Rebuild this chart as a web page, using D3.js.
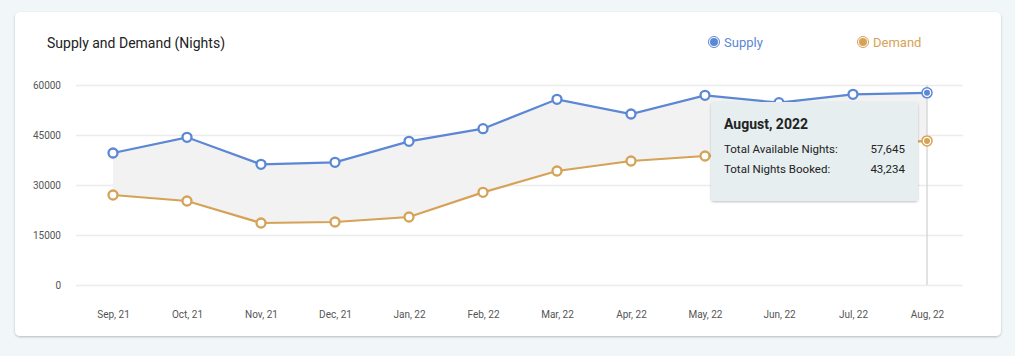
<!DOCTYPE html>
<html><head><meta charset="utf-8">
<script src="https://cdn.jsdelivr.net/npm/d3@7/dist/d3.min.js"></script>
<style>
body{margin:0;background:#f1f6f9;font-family:Roboto,"Noto Sans",sans-serif;}
svg{display:block;}
</style></head><body>
<svg id="c" width="1015" height="356"></svg>
<script>
const months = ["Sep, 21","Oct, 21","Nov, 21","Dec, 21","Jan, 22","Feb, 22","Mar, 22","Apr, 22","May, 22","Jun, 22","Jul, 22","Aug, 22"];
const supply = [39600,44300,36200,36800,43100,46900,55700,51300,56900,54700,57200,57645];
const demand = [27000,25200,18600,18900,20400,27800,34200,37200,38700,40200,41800,43234];
const yTicks = [0,15000,30000,45000,60000];
const tipTitle = "August, 2022";
const tipRows = [["Total Available Nights:","57,645"],["Total Nights Booked:","43,234"]];

const svg = d3.select("#c");
const defs = svg.append("defs");
const f = defs.append("filter").attr("id","sh").attr("x","-10%").attr("y","-10%").attr("width","120%").attr("height","130%");
f.append("feDropShadow").attr("dx",0).attr("dy",1).attr("stdDeviation",1.2).attr("flood-color","#000").attr("flood-opacity",0.25);

svg.append("rect").attr("x",15).attr("y",12).attr("width",986).attr("height",324).attr("rx",5).attr("fill","#fff").attr("filter","url(#sh)");

svg.append("text").attr("x",47).attr("y",48).attr("font-size",14).attr("fill","#222").text("Supply and Demand (Nights)");

const x = d3.scalePoint().domain(months).range([76,964]).padding(0.5);
const y = d3.scaleLinear().domain([0,60000]).range([285,85]);

// grid
const ga = svg.append("g").attr("transform","translate(76,0)")
  .call(d3.axisLeft(y).tickValues(yTicks).tickSize(-887).tickPadding(15).tickFormat(d3.format("d")));
ga.select(".domain").remove();
ga.selectAll(".tick line").attr("stroke","#ececec").attr("stroke-width",1.5);
ga.selectAll(".tick text").attr("fill","#555").attr("font-size",10).attr("font-family","Roboto");

const xa = svg.append("g").attr("transform","translate(0,285)")
  .call(d3.axisBottom(x).tickSize(0).tickPadding(26));
xa.select(".domain").remove();
xa.selectAll(".tick text").attr("fill","#555").attr("font-size",10).attr("font-family","Roboto");

const data = months.map((m,i)=>({m, s:supply[i], d:demand[i]}));

// area between
svg.append("path").datum(data)
  .attr("d", d3.area().x(d=>x(d.m)).y0(d=>y(d.d)).y1(d=>y(d.s)))
  .attr("fill","#f2f2f2");

// hover vertical line
const last = data[data.length-1];
svg.append("line").attr("x1",x(last.m)).attr("x2",x(last.m)).attr("y1",y(60000)).attr("y2",y(0))
  .attr("stroke","#d8d8d8").attr("stroke-width",1.5);

const series = [{k:"s",c:"#5b87d4"},{k:"d",c:"#d6a257"}];
series.forEach(s=>{
  svg.append("path").datum(data)
    .attr("d", d3.line().x(d=>x(d.m)).y(d=>y(d[s.k])))
    .attr("fill","none").attr("stroke",s.c).attr("stroke-width",2.2);
  svg.selectAll(null).data(data.slice(0,-1)).enter().append("circle")
    .attr("cx",d=>x(d.m)).attr("cy",d=>y(d[s.k])).attr("r",4.5)
    .attr("fill","#fff").attr("stroke",s.c).attr("stroke-width",2.3);
  // hovered point
  svg.append("circle").attr("cx",x(last.m)).attr("cy",y(last[s.k])).attr("r",5)
    .attr("fill","#fff").attr("stroke",s.c).attr("stroke-width",1.5);
  svg.append("circle").attr("cx",x(last.m)).attr("cy",y(last[s.k])).attr("r",3)
    .attr("fill",s.c);
});

// legend
const leg = [{t:"Supply",c:"#5b87d4",x:714},{t:"Demand",c:"#d6a257",x:863}];
leg.forEach(l=>{
  svg.append("circle").attr("cx",l.x).attr("cy",42).attr("r",5.5).attr("fill","#fff").attr("stroke",l.c).attr("stroke-width",1);
  svg.append("circle").attr("cx",l.x).attr("cy",42).attr("r",4).attr("fill",l.c);
  svg.append("text").attr("x",l.x+10).attr("y",47).attr("font-size",13).attr("fill",l.c).text(l.t);
});

// tooltip
const tg = svg.append("g").attr("transform","translate(711,102)");
tg.append("rect").attr("width",207).attr("height",99).attr("rx",3).attr("fill","#e6eef0").attr("filter","url(#sh)");
tg.append("text").attr("x",13).attr("y",27).attr("font-size",14).attr("font-weight",700).attr("fill","#222").text(tipTitle);
tipRows.forEach((r,i)=>{
  tg.append("text").attr("x",13).attr("y",51+i*20).attr("font-size",11.5).attr("fill","#222").text(r[0]);
  tg.append("text").attr("x",194).attr("y",51+i*20).attr("font-size",11.5).attr("fill","#222").attr("text-anchor","end").text(r[1]);
});
</script>
</body></html>
